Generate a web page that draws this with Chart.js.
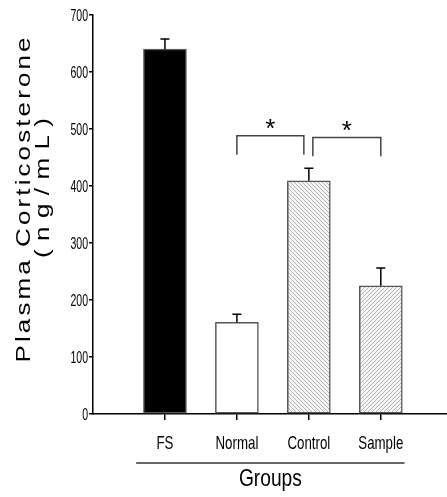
<!DOCTYPE html>
<html>
<head>
<meta charset="utf-8">
<script src="https://cdn.jsdelivr.net/npm/chart.js@4.4.1/dist/chart.umd.min.js"></script>
<style>
  html, body { margin: 0; padding: 0; background: #fff; }
</style>
</head>
<body>
<canvas id="chart" width="447" height="497"></canvas>
<script>
const groups = ['FS', 'Normal', 'Control', 'Sample']
const means = [640, 161, 409, 225]
const sems = [18, 14, 22, 31]
const yTicks = [0, 100, 200, 300, 400, 500, 600, 700]
const sigPairs = [[1, 2], [2, 3]]
const sigMarks = ['*', '*']
const xTitle = 'Groups'
const yTitle = ['Plasma Corticosterone', '(ng/mL)']

const SANS = '"Liberation Sans", Arial, sans-serif'

const canvas = document.getElementById('chart')

// diagonal hatch fill, dir 1 = '/', -1 = '\'
function hatch(dir) {
  const c = document.createElement('canvas')
  c.width = 4
  c.height = 4
  const g = c.getContext('2d')
  g.fillStyle = '#f5f5f5'
  g.fillRect(0, 0, 4, 4)
  g.strokeStyle = '#b4b4b4'
  g.lineWidth = 1
  g.beginPath()
  if (dir > 0) {
    g.moveTo(-1, 5); g.lineTo(5, -1)
    g.moveTo(-1, 1); g.lineTo(1, -1)
    g.moveTo(3, 5); g.lineTo(5, 3)
  } else {
    g.moveTo(-1, -1); g.lineTo(5, 5)
    g.moveTo(-1, 3); g.lineTo(1, 5)
    g.moveTo(3, -1); g.lineTo(5, 1)
  }
  g.stroke()
  return canvas.getContext('2d').createPattern(c, 'repeat')
}

// the original uses a tall condensed face, so squeeze the text horizontally
function squeezed(ctx, text, x, y, sx, align) {
  ctx.save()
  ctx.translate(x, y)
  ctx.scale(sx, 1)
  ctx.textAlign = align
  ctx.fillText(text, 0, 0)
  ctx.restore()
}

const errorBars = {
  id: 'errorBars',
  afterDatasetsDraw(chart) {
    const ctx = chart.ctx
    const y = chart.scales.y
    const meta = chart.getDatasetMeta(0)
    ctx.save()
    ctx.strokeStyle = '#000'
    ctx.lineWidth = 1.5
    meta.data.forEach((bar, i) => {
      const top = y.getPixelForValue(means[i])
      const cap = y.getPixelForValue(means[i] + sems[i])
      ctx.beginPath()
      ctx.moveTo(bar.x, top)
      ctx.lineTo(bar.x, cap)
      ctx.moveTo(bar.x - 4.5, cap)
      ctx.lineTo(bar.x + 4.5, cap)
      ctx.stroke()
    })
    ctx.restore()
  }
}

const brackets = {
  id: 'brackets',
  afterDatasetsDraw(chart) {
    const ctx = chart.ctx
    const x = chart.scales.x
    const y = chart.scales.y
    ctx.save()
    ctx.strokeStyle = '#444'
    ctx.lineWidth = 1.5
    ctx.fillStyle = '#000'
    ctx.font = '26px ' + SANS
    ctx.textAlign = 'center'
    ctx.textBaseline = 'alphabetic'
    sigPairs.forEach(([a, b], k) => {
      const x1 = x.getPixelForValue(a + 1) + (k === 0 ? 0 : 4)
      const x2 = x.getPixelForValue(b + 1) - (k === 0 ? 5 : 0)
      const top = y.getPixelForValue(k === 0 ? 488 : 485)
      const low = y.getPixelForValue(k === 0 ? 455 : 452)
      ctx.beginPath()
      ctx.moveTo(x1, low)
      ctx.lineTo(x1, top)
      ctx.lineTo(x2, top)
      ctx.lineTo(x2, low)
      ctx.stroke()
      ctx.fillText(sigMarks[k], (x1 + x2) / 2, top + 1)
    })
    ctx.restore()
  }
}

const labels = {
  id: 'labels',
  afterDraw(chart) {
    const ctx = chart.ctx
    const x = chart.scales.x
    const y = chart.scales.y
    ctx.save()
    ctx.fillStyle = '#000'
    ctx.textBaseline = 'alphabetic'

    // y tick labels
    ctx.font = '17px ' + SANS
    yTicks.forEach(v => {
      squeezed(ctx, String(v), y.right - 5, y.getPixelForValue(v) + 6, 0.62, 'right')
    })

    // category labels
    ctx.font = '19px ' + SANS
    groups.forEach((g, i) => {
      squeezed(ctx, g, x.getPixelForValue(i + 1), x.top + 35, 0.7, 'center')
    })

    // rule and x title
    ctx.strokeStyle = '#333'
    ctx.lineWidth = 1.5
    ctx.beginPath()
    ctx.moveTo(x.getPixelForValue(0.6), x.top + 49)
    ctx.lineTo(x.getPixelForValue(4.33), x.top + 49)
    ctx.stroke()
    ctx.font = '24px ' + SANS
    squeezed(ctx, xTitle, (x.getPixelForValue(0.6) + x.getPixelForValue(4.33)) / 2, x.top + 72, 0.8, 'center')

    // y title, wide and spaced out like the original
    ctx.font = '20px ' + SANS
    ctx.textAlign = 'center'
    const stretch = 1.3
    const spans = [325, 140]
    const centers = [200, 188]
    const baseX = [30, 49]
    yTitle.forEach((t, i) => {
      ctx.letterSpacing = '0px'
      const w = ctx.measureText(t).width * stretch
      const ls = (spans[i] - w) / (t.length - 1) / stretch
      ctx.letterSpacing = ls + 'px'
      ctx.save()
      ctx.translate(baseX[i], centers[i])
      ctx.rotate(-Math.PI / 2)
      ctx.scale(stretch, 1)
      ctx.fillText(t, ls / 2, 0)
      ctx.restore()
    })
    ctx.letterSpacing = '0px'
    ctx.restore()
  }
}

const points = means.map((v, i) => ({ x: i + 1, y: v }))

new Chart(canvas, {
  type: 'bar',
  data: {
    datasets: [{
      data: points,
      backgroundColor: ['#000', '#fff', hatch(-1), hatch(1)],
      borderColor: '#555',
      borderWidth: 1.5,
      borderSkipped: false,
      barThickness: 43,
    }]
  },
  options: {
    responsive: false,
    animation: false,
    layout: { padding: { top: 15, left: 0, right: 0, bottom: 0 } },
    plugins: {
      legend: { display: false },
      tooltip: { enabled: false },
    },
    scales: {
      x: {
        type: 'linear',
        offset: false,
        min: 0,
        max: 4.92,
        afterBuildTicks: s => { s.ticks = groups.map((g, i) => ({ value: i + 1 })) },
        afterFit: s => { s.height = 83 },
        ticks: { display: false },
        grid: { display: true, offset: false, drawOnChartArea: false, drawTicks: true, tickLength: 6, color: '#000', lineWidth: 1.5 },
        border: { display: true, color: '#000', width: 1.5 },
      },
      y: {
        min: 0,
        max: 700,
        afterBuildTicks: s => { s.ticks = yTicks.map(v => ({ value: v })) },
        afterFit: s => { s.width = 93 },
        ticks: { display: false },
        grid: { display: true, drawOnChartArea: false, drawTicks: true, tickLength: 4, color: '#000', lineWidth: 1.5 },
        border: { display: true, color: '#000', width: 1.5 },
      },
    },
  },
  plugins: [errorBars, brackets, labels],
})
</script>
</body>
</html>
